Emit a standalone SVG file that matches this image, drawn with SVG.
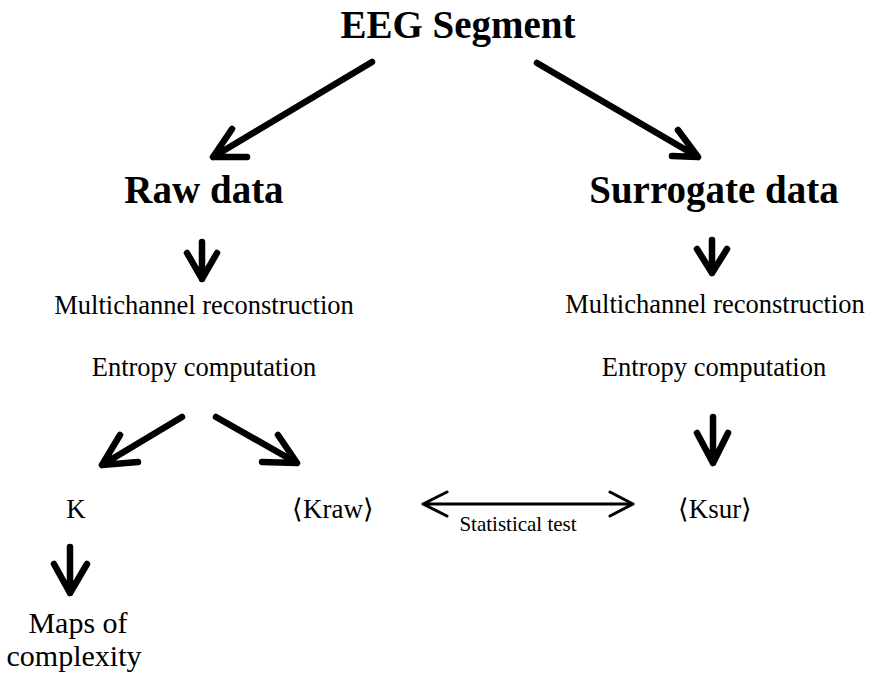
<svg xmlns="http://www.w3.org/2000/svg" width="877" height="676" viewBox="0 0 877 676">
  <style>
    text { font-family: "Liberation Serif", "Times New Roman", serif; fill: #000; text-anchor: middle; }
    .title { font-weight: bold; font-size: 39px; }
    .step { font-size: 26.5px; }
    .val { font-size: 27px; }
    .small { font-size: 21px; }
    .big { font-size: 30px; }
    .thick { fill: none; stroke: #000; stroke-width: 6.5; stroke-linecap: round; stroke-linejoin: round; }
    .thin { fill: none; stroke: #000; stroke-width: 3; stroke-linecap: round; stroke-linejoin: round; }
  </style>
  <rect width="877" height="676" fill="#fff"/>

  <g id="eeg-segment"><text class="title" x="458" y="38">EEG Segment</text></g>
  <g id="raw-data"><text class="title" x="204" y="203">Raw data</text></g>
  <g id="surrogate-data"><text class="title" x="714" y="203">Surrogate data</text></g>

  <g id="raw-steps">
    <text class="step" x="204" y="314">Multichannel reconstruction</text>
    <text class="step" x="204" y="376">Entropy computation</text>
  </g>
  <g id="sur-steps">
    <text class="step" x="715" y="313">Multichannel reconstruction</text>
    <text class="step" x="714" y="376">Entropy computation</text>
  </g>

  <g id="k"><text class="val" x="76" y="518">K</text></g>
  <g id="kraw"><text class="val" x="333" y="518">⟨Kraw⟩</text></g>
  <g id="ksur"><text class="val" x="715" y="518">⟨Ksur⟩</text></g>
  <g id="maps">
    <text class="big" x="78" y="633">Maps of</text>
    <text class="big" x="74" y="666">complexity</text>
  </g>

  <g id="connectors">
    <!-- EEG segment to raw / surrogate -->
    <path class="thick" d="M372 62 L213 157 M232 129 L213 157 L247 157"/>
    <path class="thick" d="M537 63 L698 157 M678 130 L698 157 L672 156"/>
    <!-- raw data / surrogate data down -->
    <path class="thick" d="M202 242 L202 279 M187 253 L202 279 L217 253"/>
    <path class="thick" d="M712 240 L712 273 M697 249 L712 273 L727 249"/>
    <!-- entropy to K and Kraw -->
    <path class="thick" d="M182 417 L102 465 M120 435 L102 465 L138 462"/>
    <path class="thick" d="M216 417 L297 463 M278 435 L297 463 L262 462"/>
    <!-- surrogate entropy to Ksur -->
    <path class="thick" d="M713 417 L713 463 M697 433 L713 463 L728 433"/>
    <!-- K to maps -->
    <path class="thick" d="M70 547 L70 593 M54 564 L70 593 L87 564"/>
    <!-- statistical test -->
    <path class="thin" d="M423 504 L633 504 M447 492 L423 504 L447 516 M610 492 L633 504 L610 516"/>
    <text class="small" x="518" y="531">Statistical test</text>
  </g>
</svg>
